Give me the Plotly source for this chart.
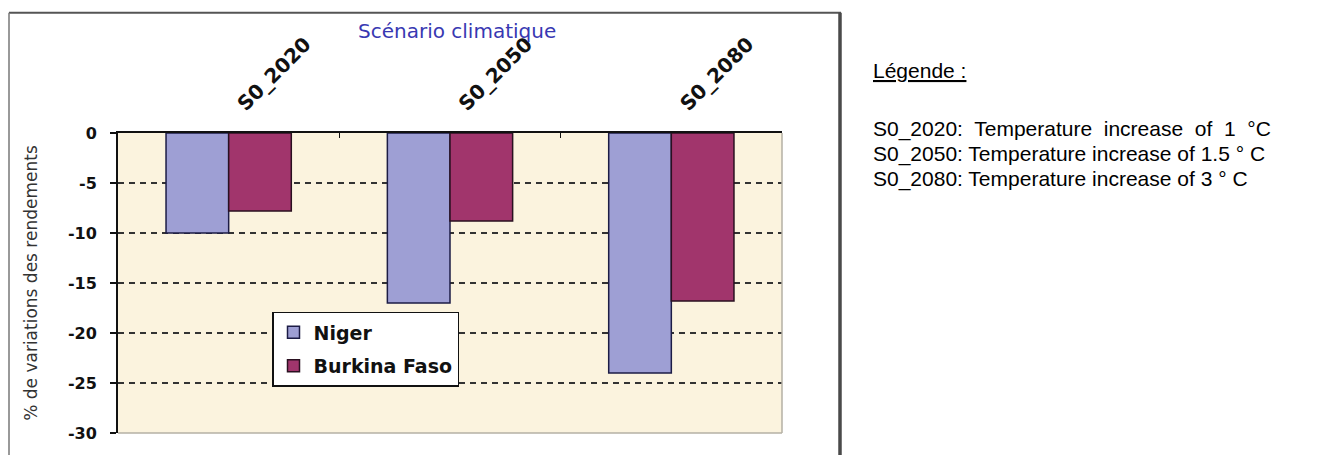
import plotly.graph_objects as go

# ---- data ----
scenarios = ["S0_2020", "S0_2050", "S0_2080"]
niger = [-10.0, -17.0, -24.0]
burkina = [-7.8, -8.8, -16.8]
y_ticks = [0, -5, -10, -15, -20, -25, -30]
legend_lines = [
    "S0_2020:  Temperature  increase  of  1  °C",
    "S0_2050: Temperature increase of 1.5 ° C",
    "S0_2080: Temperature increase of 3 ° C",
]

W, H = 1336, 455
L, R, T, B = 118, 782, 133, 435  # plot area in pixels


def px(x):
    return (x - L) / (R - L)


def py(y):
    return (B - y) / (B - T)


fig = go.Figure()
fig.add_trace(go.Bar(
    x=scenarios, y=niger, name="Niger", legendgroup="a",
    marker=dict(color="#9E9FD4", line=dict(color="#1c1c45", width=1.5)),
))
fig.add_trace(go.Bar(
    x=scenarios, y=burkina, name="Burkina Faso", legendgroup="b",
    marker=dict(color="#A1356C", line=dict(color="#2a1020", width=1.5)),
))

shapes = [
    # outer frame
    dict(type="line", xref="paper", yref="paper", x0=px(9), x1=px(841), y0=py(12), y1=py(12),
         line=dict(color="#555555", width=2)),
    dict(type="line", xref="paper", yref="paper", x0=px(9), x1=px(9), y0=py(12), y1=py(470),
         line=dict(color="#777777", width=1.5)),
    dict(type="line", xref="paper", yref="paper", x0=px(840), x1=px(840), y0=py(12), y1=py(470),
         line=dict(color="#4a4a4a", width=3.5)),
    # plot area right / bottom border
    dict(type="line", xref="paper", yref="paper", x0=1, x1=1, y0=0, y1=1,
         line=dict(color="#b5b0a5", width=1.5), layer="above"),
    dict(type="line", xref="paper", yref="paper", x0=0, x1=1, y0=0, y1=0,
         line=dict(color="#b5b0a5", width=1.5), layer="above"),
]

annotations = [
    dict(text="Scénario climatique", xref="paper", yref="paper", x=px(457), y=py(30),
         showarrow=False, xanchor="center", yanchor="middle",
         font=dict(family="DejaVu Sans", size=20, color="#3838b2")),
    dict(text="<u>Légende :</u>", xref="paper", yref="paper", x=px(871), y=py(70),
         showarrow=False, xanchor="left", yanchor="middle",
         font=dict(family="Liberation Sans, Arial", size=21, color="#000000")),
]
for i, line in enumerate(legend_lines):
    annotations.append(dict(
        text=line, xref="paper", yref="paper", x=px(871), y=py(129 + 25 * i),
        showarrow=False, xanchor="left", yanchor="middle",
        font=dict(family="Liberation Sans, Arial", size=21, color="#000000")))

fig.update_layout(
    width=W, height=H,
    margin=dict(l=L, r=W - R, t=T, b=H - B, pad=0),
    paper_bgcolor="white",
    plot_bgcolor="#FBF3DE",
    barmode="group", bargap=0.434, bargroupgap=0,
    showlegend=True,
    legend=dict(x=px(272), y=py(313), xanchor="left", yanchor="top",
                bgcolor="white", bordercolor="#111111", borderwidth=1.5,
                font=dict(family="DejaVu Sans", size=19, color="#111111", weight="bold"),
                traceorder="grouped", tracegroupgap=6, itemwidth=30),
    xaxis=dict(side="top", tickangle=-45, showline=True, linecolor="#111111", linewidth=2,
               ticks="inside", tickson="boundaries", ticklen=5, tickcolor="#111111",
               tickfont=dict(family="DejaVu Sans", size=20, color="#111111", weight="bold"),
               ticklabelshift=10, ticklabelstandoff=8,
               showgrid=False, fixedrange=True),
    yaxis=dict(range=[-30, 0], tickvals=y_ticks, ticktext=[f"<b>{v}</b>" for v in y_ticks],
               showline=True, linecolor="#111111", linewidth=2,
               ticks="outside", ticklen=6, tickcolor="#111111", tickwidth=2,
               tickfont=dict(family="DejaVu Sans", size=16, color="#111111"),
               ticklabelstandoff=10,
               showgrid=True, gridcolor="#333333", gridwidth=2, griddash="6px,5px",
               zeroline=False,
               title=dict(text="% de variations des rendements", standoff=26,
                          font=dict(family="DejaVu Sans", size=17, color="#333333"))),
    shapes=shapes,
    annotations=annotations,
)

fig.write_html("out.html")
